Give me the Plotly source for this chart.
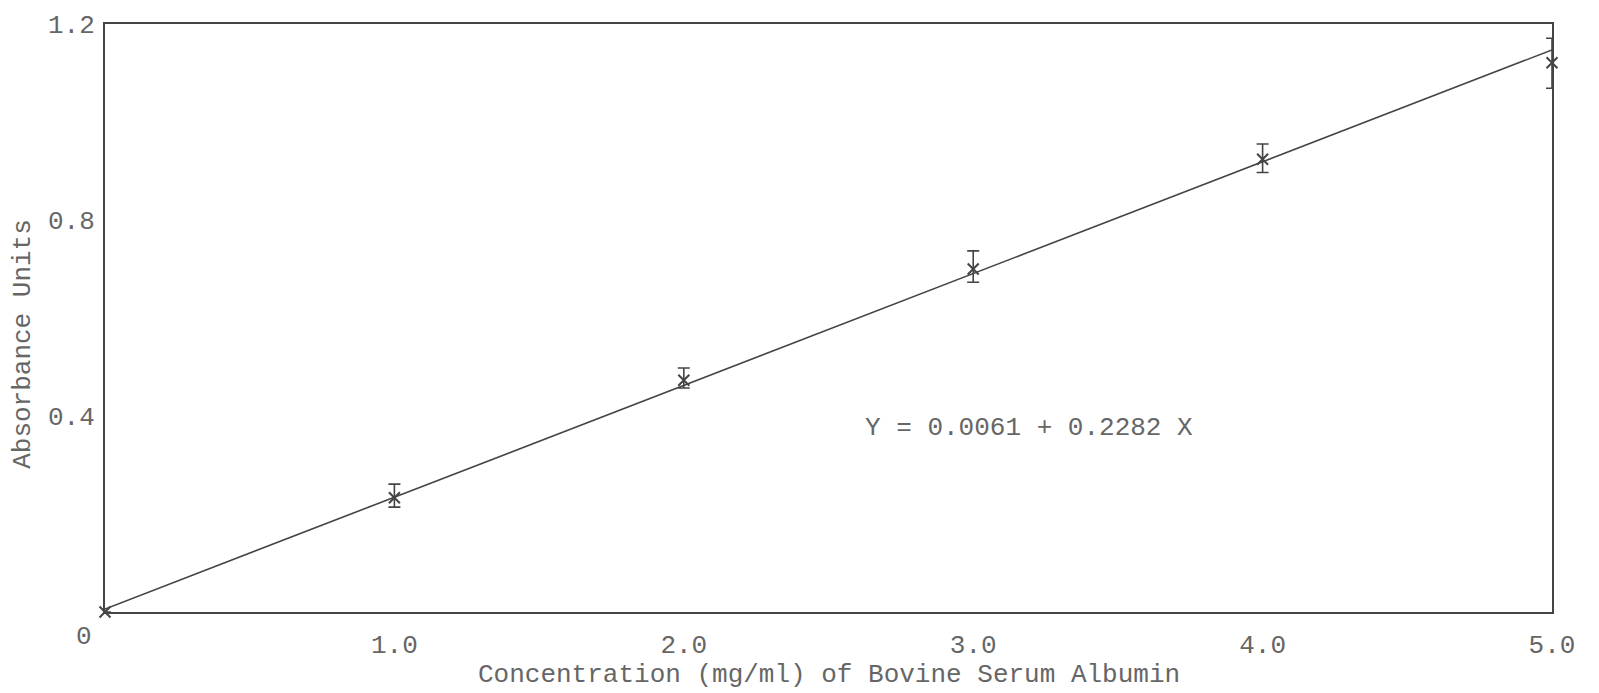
import plotly.graph_objects as go

# Data
conc = [0.0, 1.0, 2.0, 3.0, 4.0, 5.0]
absorb = [0.0, 0.233, 0.473, 0.700, 0.924, 1.121]
err_plus = [0.0, 0.028, 0.025, 0.037, 0.031, 0.050]
err_minus = [0.0, 0.019, 0.016, 0.027, 0.027, 0.052]

intercept = 0.0061
slope = 0.2282
fit_x = [0.0, 5.0]
fit_y = [intercept + slope * v for v in fit_x]

x_tickvals = [1.0, 2.0, 3.0, 4.0, 5.0]
x_ticktext = ["1.0", "2.0", "3.0", "4.0", "5.0"]
y_tickvals = [0.4, 0.8, 1.2]
y_ticktext = ["0.4", "0.8", "1.2"]

FONT = "Liberation Mono, Courier New, monospace"
INK = "#666666"
LINE = "#444444"
FS = 26

fig = go.Figure()
fig.add_trace(go.Scatter(
    x=fit_x, y=fit_y, mode="lines",
    line=dict(color=LINE, width=1.6), showlegend=False, cliponaxis=False))
fig.add_trace(go.Scatter(
    x=conc, y=absorb, mode="markers",
    marker=dict(symbol="x-thin-open", size=11, color=LINE, line=dict(color=LINE, width=2)),
    error_y=dict(type="data", array=err_plus, arrayminus=err_minus,
                 color=LINE, thickness=1.6, width=6, symmetric=False),
    showlegend=False, cliponaxis=False))

fig.update_layout(
    width=1599, height=693,
    margin=dict(l=105, r=47, t=24, b=81),
    paper_bgcolor="white", plot_bgcolor="white",
    font=dict(family=FONT, color=INK, size=FS),
    xaxis=dict(range=[0, 5], tickvals=x_tickvals, ticktext=x_ticktext,
               showgrid=False, zeroline=False, showline=True, mirror=True,
               linecolor=LINE, linewidth=2, ticks="", tickfont=dict(size=FS, color=INK),
               ticklabelstandoff=8),
    yaxis=dict(range=[0, 1.2], tickvals=y_tickvals, ticktext=y_ticktext,
               showgrid=False, zeroline=False, showline=True, mirror=True,
               linecolor=LINE, linewidth=2, ticks="", tickfont=dict(size=FS, color=INK),
               ticklabelstandoff=3),
    annotations=[
        dict(text="0", xref="paper", yref="paper", x=-0.0145, y=-0.0425,
             xanchor="center", yanchor="middle", showarrow=False,
             font=dict(size=FS, color=INK, family=FONT)),
        dict(text="Y = 0.0061 + 0.2282 X", xref="x", yref="y", x=2.62, y=0.3755,
             xanchor="left", yanchor="middle", showarrow=False,
             font=dict(size=FS, color=INK, family=FONT)),
        dict(text="Concentration (mg/ml) of Bovine Serum Albumin", xref="paper", yref="paper",
             x=0.5, y=-0.107, xanchor="center", yanchor="middle", showarrow=False,
             font=dict(size=FS, color=INK, family=FONT)),
        dict(text="Absorbance Units", xref="paper", yref="paper",
             x=-0.0567, y=0.456, xanchor="center", yanchor="middle", textangle=-90,
             showarrow=False, font=dict(size=FS, color=INK, family=FONT)),
    ],
)

fig.write_html("out.html", config={"displayModeBar": False},
               post_script="document.body.style.margin='0px';")
